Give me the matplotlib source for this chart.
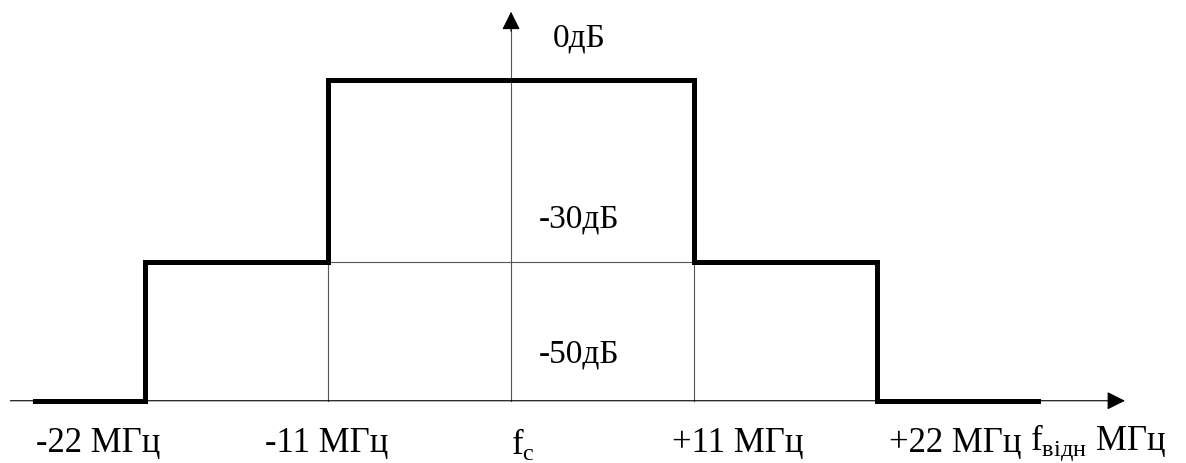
import numpy as np
import matplotlib.pyplot as plt

plt.rcParams['font.family'] = ['Liberation Serif', 'DejaVu Serif']

# spectral mask, MHz offset vs level in dB
mask_f = [-28.6, -22, -22, -11, -11, 11, 11, 22, 22, 31.7]
mask_db = [-50, -50, -30, -30, 0, 0, -30, -30, -50, -50]

level_labels = ["0дБ", "-30дБ", "-50дБ"]
level_label_db = [7.0, -22.7, -43.2]

tick_f = [-24.8, -11.1, 0.7, 13.6, 26.7, 35.3]
tick_labels = ["-22 МГц", "-11 МГц", r"f$_\mathregular{c}$", "+11 МГц", "+22 МГц",
               r"f$_\mathregular{відн}$ МГц"]


# the drawing is not to scale: -30..0 dB is squeezed vs -50..-30 dB
def fwd(v):
    v = np.asarray(v, dtype=float)
    return np.where(v < -30, (v + 50) * 6.9, 138 + (v + 30) * 6.067)


def inv(u):
    u = np.asarray(u, dtype=float)
    return np.where(u < 138, u / 6.9 - 50, (u - 138) / 6.067 - 30)


fig = plt.figure(figsize=(11.86, 4.64), dpi=100)
ax = fig.add_axes([0, 0, 1, 1])
ax.set_yscale('function', functions=(fwd, inv))
ax.set_xlim(-30.72, 40.57)
ax.set_ylim(-59.0, 13.3)
ax.axis('off')

thin = dict(color='#555555', lw=0.8)
# guide lines
ax.plot([-11, 11], [-30, -30], **thin)
ax.plot([-11, -11], [-50, -30], **thin)
ax.plot([11, 11], [-50, -30], **thin)

# axes with arrows
ax.annotate('', xy=(36.9, -50), xytext=(-30.1, -50),
            arrowprops=dict(arrowstyle='-|>', color='black', lw=0.8,
                            mutation_scale=28, shrinkA=0, shrinkB=0))
ax.plot([0, 0], [-50, 9], **thin)
ax.annotate('', xy=(0, 11.2), xytext=(0, 8),
            arrowprops=dict(arrowstyle='-|>', color='black', lw=0.8,
                            mutation_scale=28, shrinkA=0, shrinkB=0))

ax.plot(mask_f, mask_db, color='black', lw=3.6, solid_joinstyle='miter')

for lab, y in zip(level_labels, level_label_db):
    ax.text(4.1, y, lab, fontsize=24, ha='center', va='center')

for f, lab in zip(tick_f, tick_labels):
    ax.text(f, -56.1, lab, fontsize=25, ha='center', va='center')

fig.savefig('out.png', dpi=100)
